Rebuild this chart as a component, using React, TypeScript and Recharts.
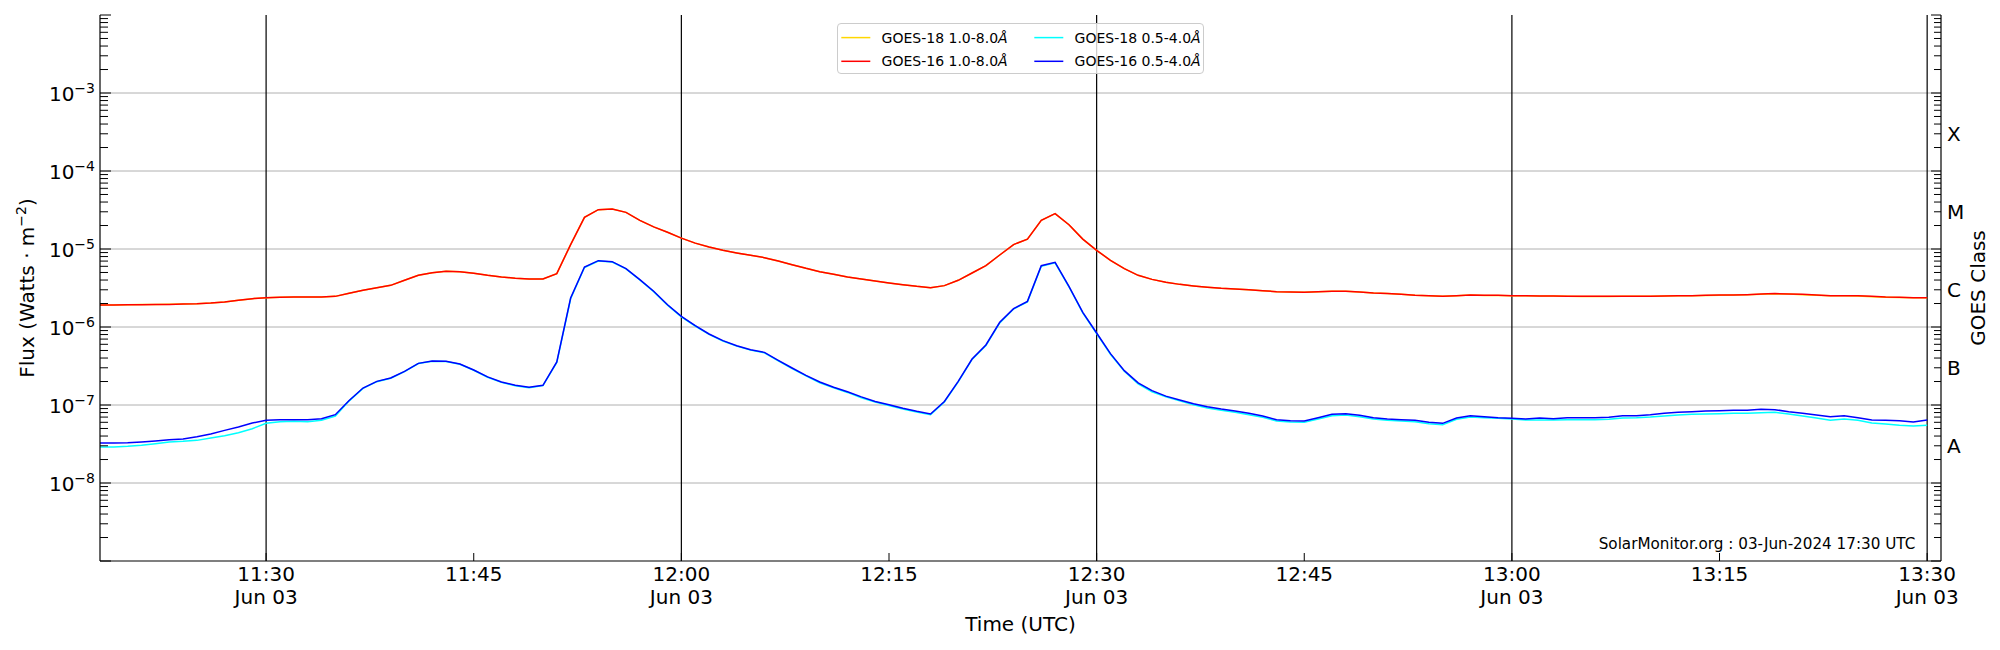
import React from "react";
import { LineChart, Line, XAxis, YAxis, ReferenceLine, Legend } from "recharts";

// ---------- data ----------
const timeLabels = [
  "11:18","11:19","11:20","11:21","11:22","11:23","11:24","11:25","11:26","11:27",
  "11:28","11:29","11:30","11:31","11:32","11:33","11:34","11:35","11:36","11:37",
  "11:38","11:39","11:40","11:41","11:42","11:43","11:44","11:45","11:46","11:47",
  "11:48","11:49","11:50","11:51","11:52","11:53","11:54","11:55","11:56","11:57",
  "11:58","11:59","12:00","12:01","12:02","12:03","12:04","12:05","12:06","12:07",
  "12:08","12:09","12:10","12:11","12:12","12:13","12:14","12:15","12:16","12:17",
  "12:18","12:19","12:20","12:21","12:22","12:23","12:24","12:25","12:26","12:27",
  "12:28","12:29","12:30","12:31","12:32","12:33","12:34","12:35","12:36","12:37",
  "12:38","12:39","12:40","12:41","12:42","12:43","12:44","12:45","12:46","12:47",
  "12:48","12:49","12:50","12:51","12:52","12:53","12:54","12:55","12:56","12:57",
  "12:58","12:59","13:00","13:01","13:02","13:03","13:04","13:05","13:06","13:07",
  "13:08","13:09","13:10","13:11","13:12","13:13","13:14","13:15","13:16","13:17",
  "13:18","13:19","13:20","13:21","13:22","13:23","13:24","13:25","13:26","13:27",
  "13:28","13:29","13:30",
];

const goes16Long = [
  1.91e-6, 1.91e-6, 1.93e-6, 1.93e-6, 1.95e-6, 1.95e-6, 1.97e-6, 1.99e-6, 2.03e-6, 2.09e-6,
  2.20e-6, 2.31e-6, 2.38e-6, 2.40e-6, 2.42e-6, 2.42e-6, 2.42e-6, 2.47e-6, 2.70e-6, 2.95e-6,
  3.19e-6, 3.42e-6, 3.97e-6, 4.60e-6, 4.97e-6, 5.17e-6, 5.12e-6, 4.88e-6, 4.60e-6, 4.38e-6,
  4.21e-6, 4.12e-6, 4.12e-6, 4.83e-6, 1.14e-5, 2.55e-5, 3.19e-5, 3.26e-5, 2.95e-5, 2.33e-5,
  1.92e-5, 1.64e-5, 1.38e-5, 1.19e-5, 1.06e-5, 9.61e-6, 8.89e-6, 8.29e-6, 7.74e-6, 7.02e-6,
  6.30e-6, 5.65e-6, 5.12e-6, 4.73e-6, 4.38e-6, 4.12e-6, 3.89e-6, 3.67e-6, 3.49e-6, 3.32e-6,
  3.19e-6, 3.39e-6, 3.97e-6, 4.92e-6, 6.11e-6, 8.38e-6, 1.14e-5, 1.34e-5, 2.33e-5, 2.84e-5,
  2.05e-5, 1.34e-5, 9.61e-6, 7.16e-6, 5.60e-6, 4.60e-6, 4.08e-6, 3.74e-6, 3.52e-6, 3.36e-6,
  3.23e-6, 3.13e-6, 3.07e-6, 3.01e-6, 2.92e-6, 2.84e-6, 2.81e-6, 2.78e-6, 2.84e-6, 2.87e-6,
  2.87e-6, 2.81e-6, 2.73e-6, 2.68e-6, 2.62e-6, 2.55e-6, 2.52e-6, 2.47e-6, 2.52e-6, 2.57e-6,
  2.55e-6, 2.55e-6, 2.52e-6, 2.52e-6, 2.50e-6, 2.50e-6, 2.47e-6, 2.47e-6, 2.47e-6, 2.47e-6,
  2.47e-6, 2.47e-6, 2.47e-6, 2.50e-6, 2.52e-6, 2.52e-6, 2.55e-6, 2.57e-6, 2.57e-6, 2.60e-6,
  2.65e-6, 2.68e-6, 2.65e-6, 2.62e-6, 2.57e-6, 2.52e-6, 2.52e-6, 2.52e-6, 2.47e-6, 2.42e-6,
  2.40e-6, 2.38e-6, 2.38e-6,
];

const goes18Long = [
  1.92e-6, 1.92e-6, 1.93e-6, 1.94e-6, 1.95e-6, 1.96e-6, 1.97e-6, 1.99e-6, 2.03e-6, 2.09e-6,
  2.20e-6, 2.31e-6, 2.38e-6, 2.40e-6, 2.42e-6, 2.42e-6, 2.43e-6, 2.47e-6, 2.70e-6, 2.95e-6,
  3.19e-6, 3.42e-6, 3.97e-6, 4.60e-6, 4.97e-6, 5.17e-6, 5.12e-6, 4.88e-6, 4.60e-6, 4.38e-6,
  4.21e-6, 4.12e-6, 4.12e-6, 4.83e-6, 1.14e-5, 2.55e-5, 3.19e-5, 3.26e-5, 2.95e-5, 2.33e-5,
  1.92e-5, 1.64e-5, 1.38e-5, 1.19e-5, 1.06e-5, 9.61e-6, 8.89e-6, 8.29e-6, 7.74e-6, 7.02e-6,
  6.30e-6, 5.65e-6, 5.12e-6, 4.73e-6, 4.38e-6, 4.12e-6, 3.89e-6, 3.67e-6, 3.49e-6, 3.32e-6,
  3.19e-6, 3.39e-6, 3.97e-6, 4.92e-6, 6.11e-6, 8.38e-6, 1.14e-5, 1.34e-5, 2.33e-5, 2.84e-5,
  2.05e-5, 1.34e-5, 9.61e-6, 7.16e-6, 5.60e-6, 4.60e-6, 4.08e-6, 3.74e-6, 3.52e-6, 3.36e-6,
  3.23e-6, 3.13e-6, 3.07e-6, 3.01e-6, 2.92e-6, 2.84e-6, 2.81e-6, 2.78e-6, 2.84e-6, 2.87e-6,
  2.87e-6, 2.81e-6, 2.73e-6, 2.68e-6, 2.62e-6, 2.55e-6, 2.52e-6, 2.47e-6, 2.52e-6, 2.57e-6,
  2.54e-6, 2.54e-6, 2.52e-6, 2.51e-6, 2.50e-6, 2.49e-6, 2.47e-6, 2.46e-6, 2.46e-6, 2.46e-6,
  2.47e-6, 2.47e-6, 2.47e-6, 2.49e-6, 2.51e-6, 2.52e-6, 2.54e-6, 2.56e-6, 2.57e-6, 2.59e-6,
  2.63e-6, 2.66e-6, 2.64e-6, 2.60e-6, 2.56e-6, 2.52e-6, 2.51e-6, 2.50e-6, 2.45e-6, 2.41e-6,
  2.39e-6, 2.37e-6, 2.37e-6,
];

const goes16Short = [
  3.26e-8, 3.26e-8, 3.29e-8, 3.36e-8, 3.46e-8, 3.59e-8, 3.67e-8, 3.93e-8, 4.25e-8, 4.73e-8,
  5.22e-8, 5.88e-8, 6.36e-8, 6.49e-8, 6.49e-8, 6.49e-8, 6.68e-8, 7.52e-8, 1.14e-7, 1.65e-7,
  2.01e-7, 2.22e-7, 2.70e-7, 3.42e-7, 3.67e-7, 3.63e-7, 3.36e-7, 2.81e-7, 2.29e-7, 1.97e-7,
  1.79e-7, 1.69e-7, 1.79e-7, 3.56e-7, 2.35e-6, 5.88e-6, 7.09e-6, 6.88e-6, 5.60e-6, 4.04e-6,
  2.87e-6, 1.93e-6, 1.37e-6, 1.04e-6, 8.13e-7, 6.68e-7, 5.76e-7, 5.12e-7, 4.73e-7, 3.74e-7,
  2.98e-7, 2.40e-7, 1.97e-7, 1.69e-7, 1.48e-7, 1.27e-7, 1.11e-7, 1.01e-7, 9.06e-8, 8.29e-8,
  7.67e-8, 1.11e-7, 2.01e-7, 3.89e-7, 5.88e-7, 1.15e-6, 1.72e-6, 2.13e-6, 6.11e-6, 6.75e-6,
  3.32e-6, 1.54e-6, 8.38e-7, 4.55e-7, 2.76e-7, 1.92e-7, 1.53e-7, 1.30e-7, 1.16e-7, 1.04e-7,
  9.52e-8, 8.89e-8, 8.38e-8, 7.82e-8, 7.23e-8, 6.49e-8, 6.30e-8, 6.24e-8, 6.88e-8, 7.59e-8,
  7.74e-8, 7.37e-8, 6.88e-8, 6.61e-8, 6.49e-8, 6.36e-8, 6.00e-8, 5.82e-8, 6.81e-8, 7.30e-8,
  7.09e-8, 6.88e-8, 6.75e-8, 6.61e-8, 6.81e-8, 6.68e-8, 6.88e-8, 6.88e-8, 6.88e-8, 6.95e-8,
  7.30e-8, 7.30e-8, 7.52e-8, 7.82e-8, 8.05e-8, 8.21e-8, 8.38e-8, 8.46e-8, 8.54e-8, 8.54e-8,
  8.80e-8, 8.71e-8, 8.21e-8, 7.82e-8, 7.44e-8, 7.09e-8, 7.30e-8, 6.88e-8, 6.42e-8, 6.36e-8,
  6.30e-8, 6.06e-8, 6.42e-8,
];

const goes18Short = [
  2.89e-8, 2.89e-8, 2.95e-8, 3.04e-8, 3.19e-8, 3.36e-8, 3.42e-8, 3.52e-8, 3.78e-8, 4.04e-8,
  4.42e-8, 4.97e-8, 5.82e-8, 6.11e-8, 6.18e-8, 6.11e-8, 6.36e-8, 7.23e-8, 1.13e-7, 1.63e-7,
  1.99e-7, 2.20e-7, 2.68e-7, 3.40e-7, 3.64e-7, 3.60e-7, 3.33e-7, 2.79e-7, 2.27e-7, 1.95e-7,
  1.77e-7, 1.67e-7, 1.77e-7, 3.50e-7, 2.30e-6, 5.80e-6, 7.00e-6, 6.80e-6, 5.55e-6, 4.00e-6,
  2.84e-6, 1.91e-6, 1.35e-6, 1.03e-6, 8.03e-7, 6.60e-7, 5.68e-7, 5.05e-7, 4.66e-7, 3.68e-7,
  2.93e-7, 2.36e-7, 1.93e-7, 1.66e-7, 1.45e-7, 1.24e-7, 1.09e-7, 9.85e-8, 8.85e-8, 8.10e-8,
  7.50e-8, 1.09e-7, 1.98e-7, 3.84e-7, 5.80e-7, 1.13e-6, 1.70e-6, 2.10e-6, 6.00e-6, 6.65e-6,
  3.28e-6, 1.52e-6, 8.25e-7, 4.48e-7, 2.70e-7, 1.86e-7, 1.48e-7, 1.27e-7, 1.13e-7, 1.01e-7,
  9.15e-8, 8.54e-8, 8.05e-8, 7.52e-8, 6.95e-8, 6.24e-8, 6.06e-8, 6.00e-8, 6.61e-8, 7.30e-8,
  7.44e-8, 7.09e-8, 6.61e-8, 6.36e-8, 6.24e-8, 6.11e-8, 5.76e-8, 5.60e-8, 6.55e-8, 7.02e-8,
  6.88e-8, 6.75e-8, 6.61e-8, 6.42e-8, 6.42e-8, 6.42e-8, 6.49e-8, 6.49e-8, 6.49e-8, 6.55e-8,
  6.81e-8, 6.88e-8, 7.02e-8, 7.23e-8, 7.44e-8, 7.59e-8, 7.67e-8, 7.74e-8, 7.82e-8, 7.82e-8,
  7.98e-8, 8.05e-8, 7.67e-8, 7.23e-8, 6.81e-8, 6.36e-8, 6.61e-8, 6.36e-8, 5.88e-8, 5.71e-8,
  5.49e-8, 5.38e-8, 5.49e-8,
];

const seriesNames = {
  g18l: "GOES-18 1.0-8.0Å",
  g16l: "GOES-16 1.0-8.0Å",
  g18s: "GOES-18 0.5-4.0Å",
  g16s: "GOES-16 0.5-4.0Å",
};
const seriesColors = { g18l: "#FFD700", g16l: "#FF0000", g18s: "#00FFFF", g16s: "#0000FF" };
const legendOrder = ["g18l", "g16l", "g18s", "g16s"];

const axisStart = "11:18";
const axisEnd = "13:31";
const xTickLabels = ["11:30", "11:45", "12:00", "12:15", "12:30", "12:45", "13:00", "13:15", "13:30"];
const hourGridLabels = ["11:30", "12:00", "12:30", "13:00", "13:30"];
const dateLabel = "Jun 03";

const decadeExponents = [-9, -8, -7, -6, -5, -4, -3, -2];
const labeledExponents = [-8, -7, -6, -5, -4, -3];
const gridDecades = [1e-8, 1e-7, 1e-6, 1e-5, 1e-4, 1e-3];
const minorMultipliers = [2, 3, 4, 5, 6, 7, 8, 9];
const goesClassLabels = ["A", "B", "C", "M", "X"];
const goesClassValues = [3e-8, 3e-7, 3e-6, 3e-5, 3e-4];

const watermark = "SolarMonitor.org : 03-Jun-2024 17:30 UTC";

// ---------- helpers ----------
const FONT = "DejaVu Sans";
const toMin = (s: string) => {
  const [h, m] = s.split(":").map(Number);
  return h * 60 + m;
};
const startMin = toMin(axisStart);
const rel = (s: string) => toMin(s) - startMin;

const rows = timeLabels.map((t, i) => ({
  t: rel(t),
  g18l: goes18Long[i],
  g16l: goes16Long[i],
  g18s: goes18Short[i],
  g16s: goes16Short[i],
}));

const yTicks: number[] = [];
decadeExponents.forEach((e) => {
  yTicks.push(Number((10 ** e).toPrecision(3)));
  if (e < -2) minorMultipliers.forEach((m) => yTicks.push(Number((m * 10 ** e).toPrecision(3))));
});

const xTicks = xTickLabels.map(rel);
const xDomain = [0, rel(axisEnd)];

const isDecade = (v: number) => Math.abs(Math.log10(v) - Math.round(Math.log10(v))) < 1e-6;

const LeftTick = (props: any) => {
  const { x, y, payload } = props;
  const v = payload.value;
  const major = isDecade(v);
  const exp = Math.round(Math.log10(v));
  const show = major && labeledExponents.includes(exp);
  return (
    <g>
      <line x1={x} x2={x + (major ? 11 : 8)} y1={y} y2={y} stroke="#000" strokeWidth={1} />
      {show && (
        <text x={x - 5} y={y + 8.4} textAnchor="end" fontSize={20} fontFamily={FONT} fill="#000">
          10<tspan dy={-8} fontSize={14}>{`\u2212${-exp}`}</tspan>
        </text>
      )}
    </g>
  );
};

const RightTick = (props: any) => {
  const { x, y, payload } = props;
  const v = payload.value;
  const major = isDecade(v);
  const idx = goesClassValues.findIndex((c) => Math.abs(c - v) / c < 1e-6);
  return (
    <g>
      <line x1={x} x2={x - (major ? 10 : 7)} y1={y} y2={y} stroke="#000" strokeWidth={1} />
      {idx >= 0 && (
        <text x={x + 6} y={y + 7.5} textAnchor="start" fontSize={20} fontFamily={FONT} fill="#000">
          {goesClassLabels[idx]}
        </text>
      )}
    </g>
  );
};

const BottomTick = (props: any) => {
  const { x, y, payload } = props;
  const m = payload.value;
  const i = xTicks.indexOf(m);
  const label = xTickLabels[i] ?? "";
  const twoLine = (m + startMin) % 30 === 0;
  return (
    <g>
      <line x1={x} x2={x} y1={y} y2={y - 8} stroke="#000" strokeWidth={1} />
      <text x={x} y={y + 20.4} textAnchor="middle" fontSize={20} fontFamily={FONT} fill="#000">
        {label}
      </text>
      {twoLine && (
        <text x={x} y={y + 43} textAnchor="middle" fontSize={20} fontFamily={FONT} fill="#000">
          {dateLabel}
        </text>
      )}
    </g>
  );
};

const renderLegend = (props: any) => {
  const payload: any[] = props.payload || [];
  const byKey: Record<string, any> = {};
  payload.forEach((p) => (byKey[String(p.dataKey)] = p));
  const W = 367;
  const H = 51;
  return (
    <div
      style={{
        width: W,
        height: H,
        background: "rgba(255,255,255,0.8)",
        border: "1px solid #cccccc",
        borderRadius: 4,
        boxSizing: "border-box",
        position: "relative",
      }}
    >
      <svg width={W} height={H} style={{ position: "absolute", left: -1, top: -1, overflow: "visible" }}>
        {legendOrder.map((k, i) => {
          const col = Math.floor(i / 2);
          const row = i % 2;
          const lx = col === 0 ? 4.3 : 197.3;
          const ty = row === 0 ? 14.6 : 38.3;
          const name = byKey[k]?.value ?? (seriesNames as any)[k];
          const color = byKey[k]?.color ?? (seriesColors as any)[k];
          return (
            <g key={k}>
              <line x1={lx} x2={lx + 29} y1={ty} y2={ty} stroke={color} strokeWidth={1.5} />
              <text x={lx + 40.3} y={ty + 5} fontSize={14} fontFamily={FONT} fill="#000">
                {String(name).slice(0, -1)}
                <tspan fontStyle="italic">{String(name).slice(-1)}</tspan>
              </text>
            </g>
          );
        })}
      </svg>
    </div>
  );
};

export default function App() {
  const axisLine = { stroke: "#000", strokeWidth: 1.2 };
  return (
    <div style={{ position: "absolute", left: 0, top: 0, width: 2000, height: 650, background: "#fff" }}>
      <LineChart width={2000} height={650} data={rows} margin={{ top: 15, right: 0, bottom: 0, left: 0 }}>
        <XAxis
          xAxisId="bottom"
          dataKey="t"
          type="number"
          domain={xDomain}
          allowDataOverflow
          ticks={xTicks}
          interval={0}
          tickSize={0}
          tickMargin={0}
          tickLine={false}
          tick={(p: any) => <BottomTick {...p} />}
          axisLine={axisLine}
          height={89}
        />
        <XAxis
          xAxisId="top"
          orientation="top"
          dataKey="t"
          type="number"
          domain={xDomain}
          allowDataOverflow
          tick={false}
          tickLine={false}
          axisLine={axisLine}
          height={0}
        />
        <YAxis
          yAxisId="left"
          type="number"
          scale="log"
          domain={[1e-9, 1e-2]}
          allowDataOverflow
          ticks={yTicks}
          interval={0}
          tickSize={0}
          tickMargin={0}
          tickLine={false}
          tick={(p: any) => <LeftTick {...p} />}
          axisLine={axisLine}
          width={100}
        />
        <YAxis
          yAxisId="right"
          orientation="right"
          type="number"
          scale="log"
          domain={[1e-9, 1e-2]}
          allowDataOverflow
          ticks={yTicks}
          interval={0}
          tickSize={0}
          tickMargin={0}
          tickLine={false}
          tick={(p: any) => <RightTick {...p} />}
          axisLine={axisLine}
          width={59}
        />
        {gridDecades.map((v) => (
          <ReferenceLine key={`h${v}`} xAxisId="bottom" yAxisId="left" y={v} stroke="#b0b0b0" strokeWidth={1} />
        ))}
        {hourGridLabels.map((s) => (
          <ReferenceLine key={`v${s}`} xAxisId="bottom" yAxisId="left" x={rel(s)} stroke="#000" strokeWidth={1.2} />
        ))}
        <Line
          xAxisId="bottom"
          yAxisId="right"
          dataKey="g18l"
          name={seriesNames.g18l}
          stroke={seriesColors.g18l}
          strokeWidth={1.5}
          dot={false}
          activeDot={false}
          type="linear"
          isAnimationActive={false}
        />
        <Line
          xAxisId="bottom"
          yAxisId="left"
          dataKey="g16l"
          name={seriesNames.g16l}
          stroke={seriesColors.g16l}
          strokeWidth={1.5}
          dot={false}
          activeDot={false}
          type="linear"
          isAnimationActive={false}
        />
        <Line
          xAxisId="bottom"
          yAxisId="left"
          dataKey="g18s"
          name={seriesNames.g18s}
          stroke={seriesColors.g18s}
          strokeWidth={1.5}
          dot={false}
          activeDot={false}
          type="linear"
          isAnimationActive={false}
        />
        <Line
          xAxisId="bottom"
          yAxisId="left"
          dataKey="g16s"
          name={seriesNames.g16s}
          stroke={seriesColors.g16s}
          strokeWidth={1.5}
          dot={false}
          activeDot={false}
          type="linear"
          isAnimationActive={false}
        />
        <Legend
          content={renderLegend}
          layout="vertical"
          align="center"
          verticalAlign="middle"
          wrapperStyle={{ left: 837, top: 22.7, width: 367, height: 51 }}
        />
      </LineChart>
      <svg
        width={2000}
        height={650}
        style={{ position: "absolute", left: 0, top: 0, pointerEvents: "none" }}
      >
        <text
          transform="translate(33.5, 288) rotate(-90)"
          textAnchor="middle"
          fontSize={20}
          fontFamily={FONT}
          fill="#000"
        >
          Flux (Watts · m<tspan dy={-8} fontSize={14}>{"\u22122"}</tspan>
          <tspan dy={8}>)</tspan>
        </text>
        <text
          transform="translate(1985, 288) rotate(-90)"
          textAnchor="middle"
          fontSize={20}
          fontFamily={FONT}
          fill="#000"
        >
          GOES Class
        </text>
        <text x={1020.5} y={630.7} textAnchor="middle" fontSize={20} fontFamily={FONT} fill="#000">
          Time (UTC)
        </text>
        <text x={1915.3} y={549.3} textAnchor="end" fontSize={15.2} fontFamily={FONT} fill="#000">
          {watermark}
        </text>
      </svg>
    </div>
  );
}
